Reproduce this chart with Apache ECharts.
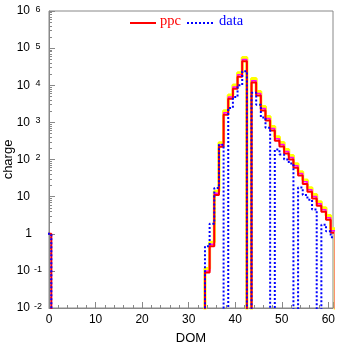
<!DOCTYPE html>
<html><head><meta charset="utf-8">
<script src="https://cdn.jsdelivr.net/npm/echarts@6/dist/echarts.min.js"></script>
<style>html,body{margin:0;padding:0;background:#fff}#c{width:337px;height:344px}</style>
</head><body><div id="c"></div>
<script>
// DOM bins (centred on integers); bins not listed are empty
const dom    = [0, 33, 34, 35, 36, 37, 38, 39, 40, 41, 42, 43, 44, 45, 46, 47, 48, 49, 50, 51, 52, 53, 54, 55, 56, 57, 58, 59, 60, 61];
const ppc    = [1, 0, 0.09, 0.46, 11, 220, 1600, 4300, 8000, 17000, 44000, 0, 11800, 5300, 2100, 1120, 600, 322, 224, 145, 100, 60, 37, 22, 13.5, 8.9, 5.7, 3.9, 2.4, 1.07];
const ppcMid = [0, 0, 0.10, 0.52, 12.4, 250, 1810, 4860, 9040, 19200, 49700, 0, 13300, 6000, 2370, 1270, 680, 364, 253, 164, 113, 68, 42, 25, 15.3, 10.1, 6.4, 4.4, 2.7, 1.21];
const ppcHi  = [0, 0, 0.115, 0.59, 14, 282, 2050, 5500, 10200, 21800, 56300, 0, 15100, 6800, 2690, 1430, 770, 412, 287, 186, 128, 77, 47, 28, 17.3, 11.4, 7.3, 5.0, 3.1, 1.37];
const dataV  = [1, 0, 0.46, 1.87, 17, 250, 0, 2450, 4800, 10000, 24000, 0, 6300, 3000, 1350, 720, 0, 186, 136, 100, 78, 0, 17.5, 11, 8.3, 4.5, 0, 1.76, 1.16, 0.8];
const xTicks = [0, 10, 20, 30, 40, 50, 60];
const yDecades = [0.01, 0.1, 1, 10, 100, 1000, 10000, 100000, 1000000];

const FLOOR = 1e-6;
function hist(vals) {
  const pts = [];
  for (let i = 0; i < dom.length; i++) {
    const v = vals[i] > 0 ? vals[i] : FLOOR;
    const lo = dom[i] - 0.5, hi = dom[i] + 0.5;
    if (i === 0) pts.push([lo, FLOOR]);
    else if (dom[i - 1] + 0.5 !== lo) pts.push([dom[i - 1] + 0.5, FLOOR], [lo, FLOOR]);
    pts.push([lo, v], [hi, v]);
  }
  pts.push([dom[dom.length - 1] + 0.5, FLOOR]);
  return pts;
}
const minorY = [];
for (let i = 0; i < yDecades.length - 1; i++) for (let k = 2; k <= 9; k++) minorY.push(+(k * yDecades[i]).toPrecision(3));

const AX = '#888888';
const chart = echarts.init(document.getElementById('c'), null, {renderer: 'canvas'});
chart.setOption({
  animation: false,
  grid: {left: 49, top: 11, right: 4, bottom: 36, outerBoundsMode: 'none', containLabel: false,
         show: true, borderColor: AX, borderWidth: 1, backgroundColor: 'transparent'},
  xAxis: {
    type: 'value', min: 0, max: 61, interval: 10,
    name: 'DOM', nameLocation: 'middle', nameGap: 24, nameMoveOverlap: false,
    nameTextStyle: {fontFamily: 'Liberation Sans', fontSize: 13, color: '#000'},
    axisLine: {lineStyle: {color: AX}},
    axisTick: {inside: true, length: 6, lineStyle: {color: AX}},
    minorTick: {show: true, splitNumber: 5, length: 3, lineStyle: {color: AX}},
    axisLabel: {margin: 6, fontFamily: 'Liberation Sans', fontSize: 12, color: '#000',
      customValues: xTicks},
    splitLine: {show: false}
  },
  yAxis: [{
    type: 'log', logBase: 10, min: 0.01, max: 1000000, interval: 1,
    name: 'charge', nameLocation: 'middle', nameGap: 34, nameMoveOverlap: false,
    nameTextStyle: {fontFamily: 'Liberation Sans', fontSize: 13, color: '#000'},
    axisLine: {lineStyle: {color: AX}},
    axisTick: {inside: true, length: 6, lineStyle: {color: AX}},
    axisLabel: {
      margin: 6, fontFamily: 'Liberation Sans', fontSize: 12, color: '#000',
      formatter: function (v) {
        const e = Math.round(Math.log10(v));
        if (e === 0) return '{b0|1}{e1| }';
        if (e === 1) return '{b0|10}{e0| }';
        return '{b|10}{s|' + e + '}';
      },
      rich: {
        b0: {fontFamily: 'Liberation Sans', fontSize: 12, color: '#000'},
        e0: {width: 13, fontSize: 12},
        e1: {width: 11, fontSize: 12},
        b: {fontFamily: 'Liberation Sans', fontSize: 12, lineHeight: 12, color: '#000', verticalAlign: 'bottom', padding: [6, 0, 0, 0]},
        s: {fontFamily: 'Liberation Sans', fontSize: 9, lineHeight: 9, color: '#000', verticalAlign: 'top', width: 10, align: 'left', padding: [0, 0, 0, 3]}
      }
    },
    splitLine: {show: false}
  }, {
    type: 'log', logBase: 10, min: 0.01, max: 1000000, position: 'left', offset: 0,
    axisLine: {show: false},
    axisTick: {inside: true, length: 3, lineStyle: {color: AX}, customValues: minorY},
    axisLabel: {show: false},
    splitLine: {show: false}
  }],
  graphic: [
    {type: 'line', shape: {x1: 130, y1: 23, x2: 156, y2: 23}, style: {stroke: '#ff0000', lineWidth: 2}},
    {type: 'text', x: 160, y: 21, style: {text: 'ppc', fill: '#ff0000', font: '14.5px "Liberation Serif"', verticalAlign: 'middle'}},
    {type: 'line', shape: {x1: 187, y1: 23, x2: 214, y2: 23}, style: {stroke: '#0000ff', lineWidth: 2, lineDash: [2, 2]}},
    {type: 'text', x: 219, y: 21, style: {text: 'data', fill: '#0000ff', font: '14.5px "Liberation Serif"', verticalAlign: 'middle'}}
  ],
  series: [
    {name: 'ppc band', type: 'line', data: hist(ppcHi), symbol: 'none', lineStyle: {color: '#ffff00', width: 3}, silent: true},
    {name: 'ppc mid', type: 'line', data: hist(ppcMid), symbol: 'none', lineStyle: {color: '#ff00ff', width: 1.5}, silent: true},
    {name: 'ppc', type: 'line', data: hist(ppc), symbol: 'none', lineStyle: {color: '#ff0000', width: 2}},
    {name: 'data', type: 'line', data: hist(dataV), symbol: 'none', lineStyle: {color: '#0000ff', width: 2, type: [2, 2]}}
  ]
});
</script></body></html>
